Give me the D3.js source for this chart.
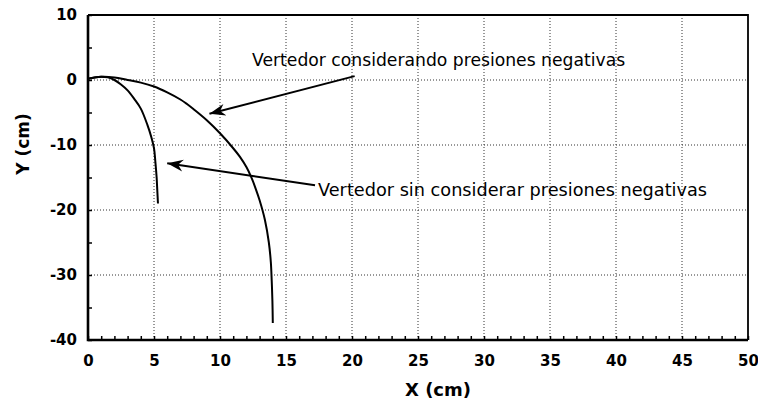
<!DOCTYPE html>
<html>
<head>
<meta charset="utf-8">
<script src="https://cdn.jsdelivr.net/npm/d3@7"></script>
<style>
  body { margin: 0; background: #fff; }
  svg { display: block; }
</style>
</head>
<body>
<div id="chart"></div>
<script>
// curve: weir profile without negative pressures (short one)
const sinX = [0, 0.5, 1.0, 1.5, 2.0, 2.5, 3.0, 3.5, 4.0, 4.5, 4.8, 5.0, 5.1, 5.2, 5.25, 5.3];
const sinY = [0.2, 0.4, 0.5, 0.4, 0.0, -0.7, -1.6, -2.9, -4.4, -6.9, -8.8, -10.5, -12.5, -15, -17, -19];

// curve: weir profile with negative pressures (long one)
const conX = [0, 1, 2, 3, 4, 5, 6, 7, 7.5, 8, 9, 10, 11, 11.5, 12, 12.4, 12.7, 13.0, 13.4, 13.7, 13.85, 13.92, 13.97, 14.0];
const conY = [0.2, 0.5, 0.4, 0.0, -0.4, -1.0, -1.9, -3.0, -3.7, -4.5, -6.2, -8.2, -10.5, -11.8, -13.4, -15.1, -16.7, -18.5, -21.5, -25, -28, -31, -34, -37.4];

const xTicks = [0, 5, 10, 15, 20, 25, 30, 35, 40, 45, 50];
const yTicks = [10, 0, -10, -20, -30, -40];

const labelCon = "Vertedor considerando presiones negativas";
const labelSin = "Vertedor sin considerar presiones negativas";
// annotation arrows: [tailX, tailY, tipX, tipY] in data units
const arrowCon = [20.2, 0.6, 9.2, -5.2];
const arrowSin = [17.2, -16.2, 6.0, -12.8];

const W = 758, H = 402;
const margin = { top: 15, left: 88, bottom: 62, right: 10 };
const w = W - margin.left - margin.right,
      h = H - margin.top - margin.bottom;

const x = d3.scaleLinear().domain([0, 50]).range([0, w]);
const y = d3.scaleLinear().domain([-40, 10]).range([h, 0]);

const svg = d3.select("#chart").append("svg")
    .attr("width", W).attr("height", H)
    .style("font-family", "'DejaVu Sans', sans-serif");

svg.append("defs").append("marker")
    .attr("id", "head")
    .attr("viewBox", "-16 -7 18 14")
    .attr("markerWidth", 18).attr("markerHeight", 14)
    .attr("markerUnits", "userSpaceOnUse")
    .attr("refX", 0).attr("refY", 0)
    .attr("orient", "auto")
    .append("path")
    .attr("d", "M0,0 L-16,-6 L-11,0 L-16,6 Z")
    .attr("fill", "#000");

const g = svg.append("g")
    .attr("transform", "translate(" + margin.left + "," + margin.top + ")");

// dotted grid
g.append("g").selectAll("line")
    .data(xTicks.filter(d => d > 0 && d < 50))
    .enter().append("line")
    .attr("x1", d => x(d)).attr("x2", d => x(d))
    .attr("y1", 0).attr("y2", h)
    .attr("stroke", "#333").attr("stroke-width", 1)
    .attr("stroke-dasharray", "1,2");

g.append("g").selectAll("line")
    .data(yTicks.filter(d => d > -40 && d < 10))
    .enter().append("line")
    .attr("x1", 0).attr("x2", w)
    .attr("y1", d => y(d)).attr("y2", d => y(d))
    .attr("stroke", "#333").attr("stroke-width", 1)
    .attr("stroke-dasharray", "1,2");

// minor ticks, pointing inward
g.append("g")
    .attr("transform", "translate(0," + h + ")")
    .call(d3.axisBottom(x).tickValues(d3.range(0, 51, 1)).tickSize(-4).tickFormat(""))
    .call(a => a.select(".domain").remove())
    .selectAll("line").attr("stroke-width", 1.5);

g.append("g")
    .call(d3.axisLeft(y).tickValues(d3.range(-40, 11, 5)).tickSize(-4).tickFormat(""))
    .call(a => a.select(".domain").remove())
    .selectAll("line").attr("stroke-width", 1.5);

// tick labels (plain hyphen for negatives, as in the original)
const fmt = d => String(d);

const xAxis = g.append("g")
    .attr("transform", "translate(0," + h + ")")
    .call(d3.axisBottom(x).tickValues(xTicks).tickSize(0).tickPadding(15).tickFormat(fmt));
xAxis.select(".domain").remove();
xAxis.selectAll("text")
    .style("font-size", "15px").style("font-weight", "bold")
    .style("font-family", "'DejaVu Sans', sans-serif").attr("fill", "#000");

const yAxis = g.append("g")
    .call(d3.axisLeft(y).tickValues(yTicks).tickSize(0).tickPadding(11).tickFormat(fmt));
yAxis.select(".domain").remove();
yAxis.selectAll("text")
    .style("font-size", "15px").style("font-weight", "bold")
    .style("font-family", "'DejaVu Sans', sans-serif").attr("fill", "#000");

// frame
g.append("path")
    .attr("d", "M0,0 H" + w + " V" + h)
    .attr("fill", "none").attr("stroke", "#000").attr("stroke-width", 1.8);
g.append("path")
    .attr("d", "M0,0 V" + h + " H" + w)
    .attr("fill", "none").attr("stroke", "#000").attr("stroke-width", 2.6);

// curves
const line = d3.line()
    .x(d => x(d[0]))
    .y(d => y(d[1]))
    .curve(d3.curveCatmullRom);

g.append("path")
    .datum(sinX.map((v, i) => [v, sinY[i]]))
    .attr("d", line)
    .attr("fill", "none").attr("stroke", "#000").attr("stroke-width", 2);

g.append("path")
    .datum(conX.map((v, i) => [v, conY[i]]))
    .attr("d", line)
    .attr("fill", "none").attr("stroke", "#000").attr("stroke-width", 2);

// annotations
[arrowCon, arrowSin].forEach(a => {
    g.append("line")
        .attr("x1", x(a[0])).attr("y1", y(a[1]))
        .attr("x2", x(a[2])).attr("y2", y(a[3]))
        .attr("stroke", "#000").attr("stroke-width", 2)
        .attr("marker-end", "url(#head)");
});

svg.append("text")
    .attr("x", 252).attr("y", 66)
    .style("font-size", "17.2px")
    .text(labelCon);

svg.append("text")
    .attr("x", 318).attr("y", 196)
    .style("font-size", "17.7px")
    .text(labelSin);

// axis titles
svg.append("text")
    .attr("x", 438).attr("y", 396)
    .attr("text-anchor", "middle")
    .style("font-size", "18px").style("font-weight", "bold")
    .text("X (cm)");

svg.append("text")
    .attr("transform", "translate(29,144) rotate(-90)")
    .attr("text-anchor", "middle")
    .style("font-size", "17px").style("font-weight", "bold")
    .text("Y (cm)");
</script>
</body>
</html>
